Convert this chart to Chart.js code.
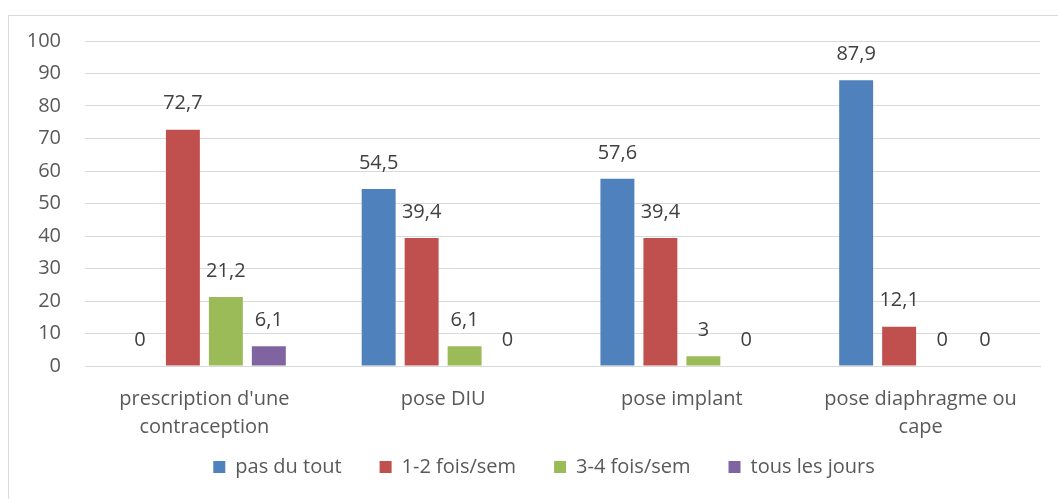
<!DOCTYPE html>
<html>
<head>
<meta charset="utf-8">
<script src="https://cdn.jsdelivr.net/npm/chart.js@4/dist/chart.umd.min.js"></script>
<style>
  html, body { margin: 0; padding: 0; background: #fff; overflow: hidden; }
  #cadre { position: absolute; left: 8px; top: 15px; width: 1060px; height: 500px; border: 1px solid #d9d9d9; }
  #zone { position: absolute; left: 0; top: 0; width: 1058px; height: 510px; }
</style>
</head>
<body>
<div id="cadre"></div>
<div id="zone"><canvas id="graphique"></canvas></div>
<script>
// Données
const categories = [
  ["prescription d'une", 'contraception'],
  'pose DIU',
  'pose implant',
  ['pose diaphragme ou', 'cape']
];
const series = ['pas du tout', '1-2 fois/sem', '3-4 fois/sem', 'tous les jours'];
const pasDuTout = [0, 54.5, 57.6, 87.9];
const unDeuxFois = [72.7, 39.4, 39.4, 12.1];
const troisQuatreFois = [21.2, 6.1, 3, 0];
const tousLesJours = [6.1, 0, 0, 0];
const yTicks = [0, 10, 20, 30, 40, 50, 60, 70, 80, 90, 100];

const couleurs = ['#4f81bd', '#c0504d', '#9bbb59', '#8064a2'];
const texte = '#595959';
const police = '"Open Sans", "Noto Sans", sans-serif';
const taille = 20;

// Étiquettes de valeur au-dessus des barres (format français)
const etiquettes = {
  id: 'etiquettes',
  afterDatasetsDraw(chart) {
    const ctx = chart.ctx;
    ctx.save();
    ctx.font = taille + 'px ' + police;
    ctx.fillStyle = '#404040';
    ctx.textAlign = 'center';
    ctx.textBaseline = 'middle';
    chart.data.datasets.forEach((ds, i) => {
      chart.getDatasetMeta(i).data.forEach((bar, j) => {
        const v = ds.data[j];
        ctx.fillText(String(v).replace('.', ','), bar.x, bar.y - 26);
      });
    });
    ctx.restore();
  }
};

// La légende chevauche un peu la zone des libellés de l'axe x (comme dans Excel)
const placerLegende = {
  id: 'placerLegende',
  afterLayout(chart) {
    const l = chart.legend;
    const h = l.height;
    l.top = chart.scales.x.top + 53;
    l.bottom = l.top + h;
    l.left += 14;
    l.right += 14;
  }
};

const valeurs = [pasDuTout, unDeuxFois, troisQuatreFois, tousLesJours];

new Chart(document.getElementById('graphique'), {
  type: 'bar',
  data: {
    labels: categories,
    datasets: series.map((nom, i) => ({
      label: nom,
      data: valeurs[i],
      backgroundColor: couleurs[i],
      categoryPercentage: 0.72,
      barPercentage: 0.79
    }))
  },
  options: {
    responsive: true,
    maintainAspectRatio: false,
    animation: false,
    layout: { padding: { left: 20, right: 18, top: 41, bottom: 0 } },
    plugins: {
      legend: {
        position: 'bottom',
        labels: {
          color: texte,
          font: { family: police, size: taille },
          boxWidth: 12,
          boxHeight: 12,
          padding: 38
        }
      },
      tooltip: { enabled: false }
    },
    scales: {
      x: {
        afterFit: s => { s.height = 76; },
        grid: { display: false, drawTicks: false },
        border: { color: '#d9d9d9' },
        ticks: {
          color: texte,
          font: { family: police, size: taille, lineHeight: 1.4 },
          padding: 19,
          maxRotation: 0
        }
      },
      y: {
        min: 0,
        max: 100,
        afterFit: s => { s.width = 65; },
        afterBuildTicks: s => { s.ticks = yTicks.map(v => ({ value: v })); },
        grid: { color: '#d9d9d9', drawTicks: false },
        border: { display: false },
        ticks: {
          color: texte,
          font: { family: police, size: taille },
          padding: 24
        }
      }
    }
  },
  plugins: [etiquettes, placerLegende]
});
</script>
</body>
</html>
